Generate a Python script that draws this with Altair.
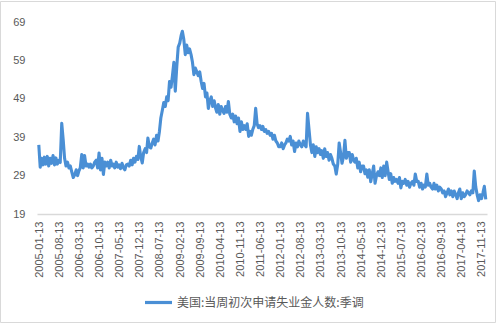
import altair as alt
import pandas as pd

SERIES = "美国:当周初次申请失业金人数:季调"
LINE_COLOR = "#4A8FD5"
TEXT_COLOR = "#595959"

# two readings per month (early / late), 24 per year, in units of 10k
v2005 = [37.0, 31.2, 33.5, 31.8, 33.8, 32.0, 34.0, 31.5, 33.5, 32.2, 34.2, 31.8,
         33.6, 32.0, 33.0, 32.4, 42.6, 38.4, 33.5, 31.5, 32.5, 31.0, 31.5, 30.0]
v2006 = [28.5, 29.2, 30.5, 29.0, 30.2, 31.0, 34.5, 31.0, 34.2, 31.5, 32.0, 31.2,
         32.0, 31.0, 31.5, 32.5, 33.0, 31.0, 34.9, 30.5, 33.5, 29.3, 32.5, 31.5]
v2007 = [32.5, 31.0, 33.0, 31.5, 32.0, 31.0, 32.5, 31.2, 31.8, 30.8, 32.2, 31.0,
         30.5, 31.8, 32.0, 31.5, 33.0, 31.8, 33.5, 32.5, 34.0, 33.2, 36.6, 34.0]
v2008 = [32.3, 35.0, 36.0, 35.0, 38.8, 36.5, 36.2, 37.5, 38.5, 37.0, 39.5, 38.0,
         40.5, 44.0, 46.0, 48.0, 47.0, 49.5, 48.5, 53.5, 52.0, 55.0, 58.5, 51.0]
v2009 = [57.5, 62.5, 63.5, 65.5, 66.6, 64.5, 60.5, 63.0, 61.0, 62.0, 60.5, 58.5,
         55.3, 57.0, 56.0, 55.0, 56.0, 53.5, 51.7, 53.0, 49.5, 50.5, 46.5, 48.5]
v2010 = [49.5, 47.0, 48.5, 46.5, 45.5, 47.5, 45.0, 47.0, 46.0, 45.2, 47.0, 45.5,
         48.3, 45.0, 44.0, 45.0, 43.0, 44.5, 42.5, 44.0, 40.5, 43.0, 41.0, 42.0]
v2011 = [41.0, 42.5, 39.2, 40.5, 39.5, 41.0, 42.0, 46.5, 42.5, 41.5, 42.0, 41.0,
         41.8, 40.5, 41.0, 40.0, 40.5, 39.5, 40.0, 38.5, 39.5, 38.0, 37.5, 36.5]
v2012 = [36.5, 37.5, 36.0, 37.0, 37.5, 38.5, 38.0, 39.2, 37.0, 38.0, 35.3, 37.5,
         36.5, 38.0, 37.0, 36.5, 38.0, 37.0, 36.5, 45.2, 41.0, 37.0, 35.0, 37.0]
v2013 = [34.0, 36.5, 35.0, 36.0, 34.5, 35.5, 33.5, 36.0, 34.0, 35.0, 33.0, 34.5,
         33.5, 32.0, 31.5, 29.4, 32.0, 37.5, 35.0, 32.2, 34.0, 38.2, 33.5, 35.0]
v2014 = [35.0, 32.5, 34.5, 33.0, 32.5, 33.5, 31.0, 32.5, 30.0, 31.5, 31.5, 29.5,
         30.5, 28.6, 30.5, 27.4, 29.5, 31.5, 27.0, 29.0, 30.0, 29.0, 31.0, 28.5]
v2015 = [31.5, 29.0, 32.5, 30.0, 28.0, 29.5, 27.0, 28.5, 27.5, 28.0, 27.0, 28.5,
         25.8, 27.5, 27.0, 28.0, 26.5, 27.5, 26.0, 27.0, 27.5, 26.5, 29.4, 27.5]
v2016 = [27.5, 26.0, 27.0, 25.5, 26.5, 26.0, 29.4, 26.5, 27.0, 26.0, 25.5, 27.0,
         25.5, 26.5, 25.0, 26.0, 25.5, 24.5, 25.0, 23.5, 24.5, 25.5, 24.0, 25.0]
v2017 = [23.5, 25.0, 24.0, 23.0, 24.5, 25.5, 23.0, 24.5, 23.5, 24.0, 25.0, 24.5,
         24.0, 25.0, 24.5, 30.2, 26.0, 24.0, 22.5, 24.0, 23.0, 24.5, 26.2, 22.8]

yearly = {2005: v2005, 2006: v2006, 2007: v2007, 2008: v2008, 2009: v2009,
          2010: v2010, 2011: v2011, 2012: v2012, 2013: v2013, 2014: v2014,
          2015: v2015, 2016: v2016, 2017: v2017}

tick_labels = ["2005-01-13", "2005-08-13", "2006-03-13", "2006-10-13", "2007-05-13",
               "2007-12-13", "2008-07-13", "2009-02-13", "2009-09-13", "2010-04-13",
               "2010-11-13", "2011-06-13", "2012-01-13", "2012-08-13", "2013-03-13",
               "2013-10-13", "2014-05-13", "2014-12-13", "2015-07-13", "2016-02-13",
               "2016-09-13", "2017-04-13", "2017-11-13"]
y_ticks = [19, 29, 39, 49, 59, 69]

rows = []
for yr, vals in yearly.items():
    for i, v in enumerate(vals):
        month = i // 2 + 1
        day = 8 if i % 2 == 0 else 23
        rows.append({"date": f"{yr}-{month:02d}-{day:02d}", "value": v, "series": SERIES})
df = pd.DataFrame(rows)


def ms(d):
    return int(pd.Timestamp(d, tz="UTC").value // 10**6)


x_domain = [ms("2004-12-20"), ms("2018-01-05")]
x_values = [ms(d) for d in tick_labels]

line = alt.Chart(df).mark_line(strokeWidth=3.1, strokeJoin="round").encode(
    x=alt.X("date:T",
            scale=alt.Scale(type="utc", domain=x_domain, nice=False),
            axis=alt.Axis(values=x_values,
                          labelExpr="utcFormat(datum.value, '%Y-%m-%d')",
                          labelAngle=-90, labelFontSize=11, labelColor=TEXT_COLOR,
                          labelFont="Liberation Sans", labelPadding=7,
                          ticks=False, tickSize=0, grid=False,
                          domainColor="#D9D9D9", domainWidth=1.3,
                          labelOverlap=False, title=None)),
    y=alt.Y("value:Q",
            scale=alt.Scale(domain=[19, 69], nice=False, zero=False),
            axis=alt.Axis(values=y_ticks, labelFontSize=11, labelColor=TEXT_COLOR,
                          labelFont="Liberation Sans", labelPadding=12,
                          ticks=False, tickSize=0, grid=False, domain=False,
                          title=None)),
    color=alt.Color("series:N",
                    scale=alt.Scale(domain=[SERIES], range=[LINE_COLOR]),
                    legend=alt.Legend(orient="none", legendX=106, legendY=265,
                                      title=None, symbolType="stroke",
                                      symbolSize=729, symbolStrokeWidth=3.2,
                                      labelFontSize=12, labelColor=TEXT_COLOR,
                                      labelFont="Noto Sans CJK SC", labelLimit=400,
                                      labelOffset=3, padding=0)),
)

border = alt.Chart(pd.DataFrame({"a": [0]})).mark_rect(
    fillOpacity=0, stroke="#D9D9D9", strokeWidth=1
).encode(
    x=alt.value(-36.5), x2=alt.value(458.5),
    y=alt.value(-20.5), y2=alt.value(300.5),
)

chart = alt.layer(border, line).properties(
    width=450, height=192,
    autosize=alt.AutoSizeParams(type="none"),
    padding={"left": 37, "top": 22, "right": 13, "bottom": 110},
    background="white",
).configure_view(stroke=None)

chart.save("out.html", embed_options={"renderer": "svg", "actions": False})
